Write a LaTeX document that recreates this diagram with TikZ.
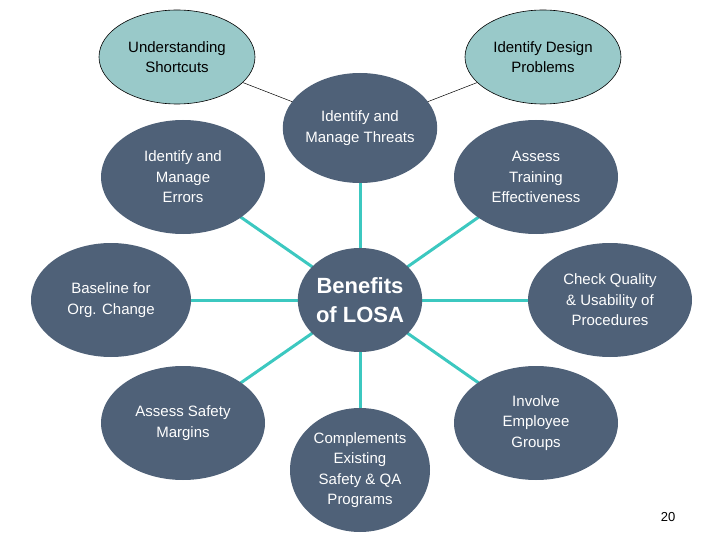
\documentclass[tikz,border=0pt]{standalone}
\usepackage{fontspec}
\setmainfont{Liberation Sans}
\usetikzlibrary{shapes.geometric}
\definecolor{dark}{HTML}{4F6178}
\definecolor{light}{HTML}{99C9C9}
\definecolor{teal}{HTML}{3CC8C0}
\begin{document}
\begin{tikzpicture}[x=1pt,y=-1pt,
 dk/.style={ellipse,fill=dark,text=white,inner sep=0pt,align=center,font=\fontsize{15}{20.5}\selectfont},
 lt/.style={ellipse,fill=light,draw=black,line width=0.6pt,inner sep=0pt,align=center,font=\fontsize{15}{20.5}\selectfont},
 conn/.style={teal,line width=3pt},
 thin/.style={black,line width=0.5pt}]
\useasboundingbox (0,0) rectangle (720,540);
\node[lt,minimum width=156,minimum height=94] (ul) at (177,57) {Understanding\\Shortcuts};
\node[lt,minimum width=156,minimum height=94] (ur) at (543,57) {Identify Design\\Problems};
\coordinate (tt) at (360,128);
\draw[thin] (ul) -- (tt);
\draw[thin] (ur) -- (tt);
\foreach \p in {(360,128),(183,177),(536,177),(111,300),(610,300),(183,423),(360,470),(536,423)}{\draw[conn] (360,300) -- \p;}
\node[dk,minimum width=124,minimum height=104,font=\fontsize{22}{29}\selectfont\bfseries] (c) at (360,300) {Benefits\\of LOSA};
\node[dk,minimum width=136,minimum height=110] (t) at (360,128) {Identify and\\Manage Threats};
\node[dk,minimum width=164,minimum height=114] (tl) at (183,177) {Identify and\\Manage\\Errors};
\node[dk,minimum width=164,minimum height=114] (tr) at (536,177) {Assess\\Training\\Effectiveness};
\node[dk,minimum width=160,minimum height=114] (l) at (111,300) {Baseline for\\Org. Change};
\node[dk,minimum width=164,minimum height=114] (r) at (610,300) {Check Quality\\\& Usability of\\Procedures};
\node[dk,minimum width=164,minimum height=114] (bl) at (183,423) {Assess Safety\\Margins};
\node[dk,minimum width=140,minimum height=124] (b) at (360,470) {Complements\\Existing\\Safety \& QA\\Programs};
\node[dk,minimum width=164,minimum height=114] (br) at (536,423) {Involve\\Employee\\Groups};
\node[font=\fontsize{13}{15}\selectfont] (pg) at (668,517) {20};
\end{tikzpicture}
\end{document}
